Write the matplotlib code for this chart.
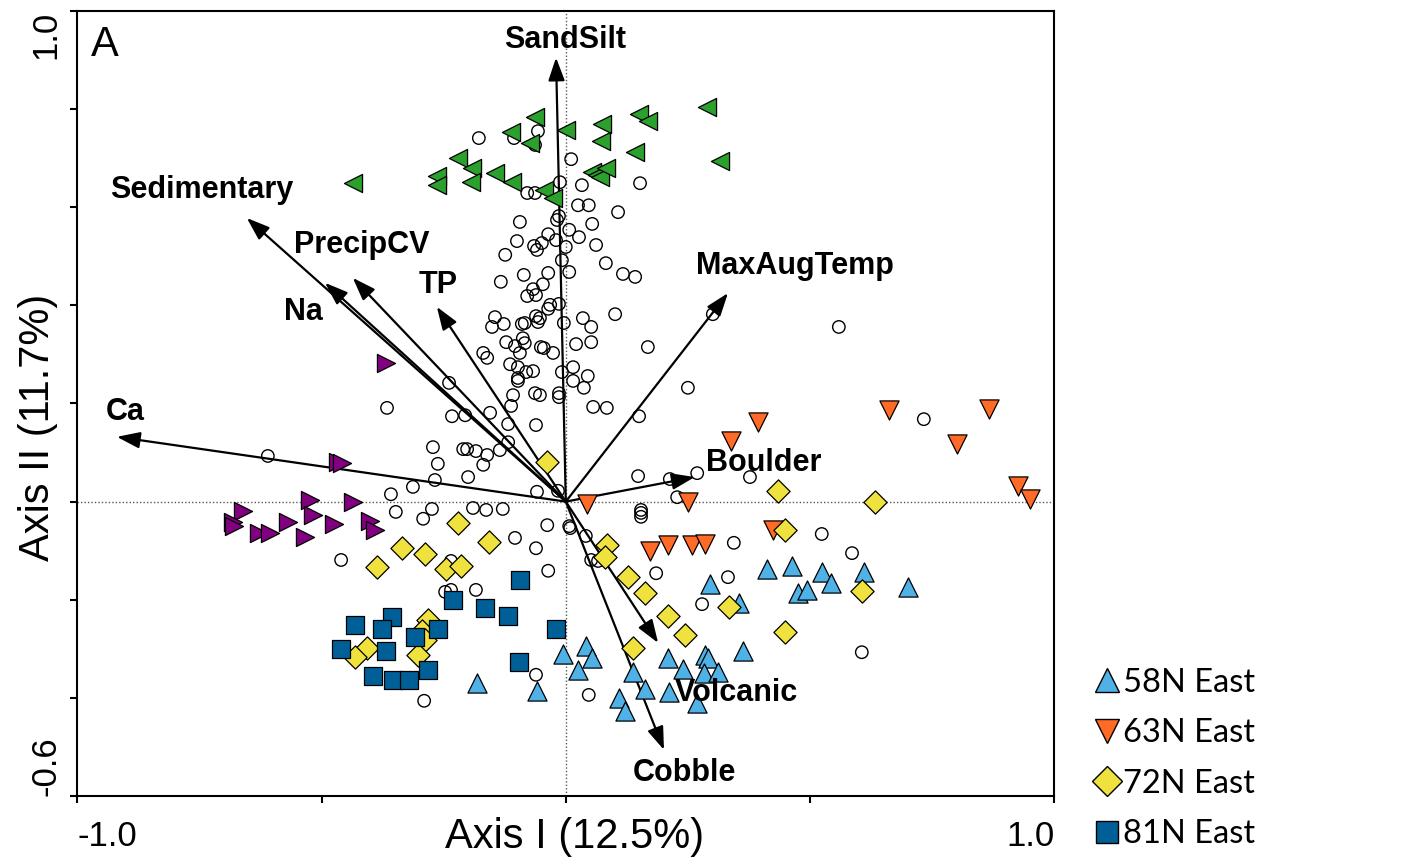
import matplotlib
matplotlib.use("Agg")
import matplotlib.pyplot as plt
from matplotlib.lines import Line2D

###
# DATA (axis units)
###

# sites not in the four highlighted groups (open circles)
other_x = [-0.178, -0.106, -0.057, -0.063, 0.011, -0.012, 0.033, 0.152, -0.079, -0.063,
           0.025, 0.047, 0.107, -0.014, -0.018, -0.094, 0.054, 0.007, -0.036, 0.027,
           -0.020, -0.100, -0.049, 0.062, -0.065, -0.059, 0.000, -0.124, -0.008, 0.082,
           0.117, 0.142, 0.007, -0.036, -0.086, -0.133, -0.047, -0.067, -0.079, -0.061,
           -0.014, -0.032, -0.036, 0.101, 0.301, 0.559, -0.145, -0.127, -0.151, -0.090,
           -0.084, -0.061, -0.057, -0.053, -0.004, 0.035, 0.052, -0.122, -0.104, -0.088,
           -0.084, -0.051, -0.045, -0.026, -0.094, 0.021, 0.052, 0.168, -0.169, -0.161,
           -0.114, -0.098, -0.081, -0.067, -0.098, -0.098, -0.008, 0.015, 0.015, 0.045,
           0.037, 0.250, -0.063, -0.053, -0.108, -0.014, -0.014, -0.112, 0.056, 0.084,
           0.150, -0.239, -0.366, -0.233, -0.206, -0.155, -0.118, -0.061, 0.733, -0.610,
           -0.272, -0.210, -0.202, -0.184, -0.161, -0.135, -0.118, -0.262, -0.169, -0.200,
           -0.268, -0.313, -0.358, -0.059, -0.016, -0.348, -0.274, -0.292, -0.190, -0.163,
           -0.129, -0.038, 0.007, 0.009, 0.041, -0.104, -0.061, 0.052, 0.066, -0.036,
           -0.460, -0.235, -0.247, -0.235, -0.184, -0.061, -0.290, 0.047, 0.148, 0.213,
           0.269, 0.377, 0.228, 0.154, 0.154, 0.154, 0.344, 0.524, 0.586, 0.185,
           0.332, 0.279, 0.606]
other_y = [0.741, 0.741, 0.755, 0.727, 0.698, 0.651, 0.645, 0.649, 0.629, 0.629,
           0.604, 0.604, 0.590, 0.582, 0.574, 0.570, 0.566, 0.554, 0.545, 0.539,
           0.533, 0.531, 0.527, 0.523, 0.521, 0.513, 0.519, 0.503, 0.492, 0.486,
           0.464, 0.458, 0.468, 0.466, 0.462, 0.448, 0.443, 0.433, 0.419, 0.421,
           0.403, 0.401, 0.393, 0.382, 0.382, 0.356, 0.376, 0.362, 0.356, 0.362,
           0.364, 0.378, 0.366, 0.374, 0.364, 0.374, 0.356, 0.325, 0.317, 0.333,
           0.323, 0.315, 0.313, 0.303, 0.303, 0.321, 0.325, 0.315, 0.303, 0.293,
           0.280, 0.274, 0.264, 0.266, 0.252, 0.246, 0.264, 0.274, 0.246, 0.256,
           0.232, 0.232, 0.221, 0.217, 0.217, 0.221, 0.213, 0.195, 0.193, 0.191,
           0.174, 0.242, 0.191, 0.174, 0.176, 0.181, 0.158, 0.156, 0.168, 0.093,
           0.111, 0.107, 0.107, 0.103, 0.095, 0.105, 0.121, 0.077, 0.075, 0.050,
           0.044, 0.030, 0.015, 0.020, 0.022, -0.021, -0.015, -0.035, -0.013, -0.017,
           -0.015, -0.048, -0.050, -0.054, -0.070, -0.074, -0.095, -0.119, -0.121, -0.141,
           -0.119, -0.121, -0.184, -0.180, -0.180, -0.353, -0.406, -0.394, 0.052, 0.046,
           0.058, 0.050, 0.009, -0.017, -0.023, -0.031, -0.084, -0.066, -0.105, -0.146,
           -0.154, -0.209, -0.307]

# green sites (left triangles)
green_x = [-0.436, -0.264, -0.264, -0.221, -0.192, -0.194, -0.145, -0.110, -0.112, -0.073,
           -0.063, -0.045, -0.026, 0.000, 0.054, 0.064, 0.070, 0.082, 0.074, 0.072,
           0.142, 0.150, 0.168, 0.289, 0.316]
green_y = [0.649, 0.664, 0.645, 0.700, 0.680, 0.651, 0.670, 0.651, 0.753, 0.731,
           0.784, 0.635, 0.619, 0.757, 0.672, 0.666, 0.662, 0.680, 0.770, 0.735,
           0.713, 0.790, 0.776, 0.804, 0.694]

# purple sites (right triangles)
purple_x = [-0.368, -0.466, -0.458, -0.524, -0.436, -0.661, -0.681, -0.679, -0.628, -0.606,
            -0.569, -0.518, -0.534, -0.475, -0.401, -0.391]
purple_y = [0.283, 0.081, 0.079, 0.003, -0.001, -0.019, -0.042, -0.050, -0.064, -0.064,
            -0.042, -0.027, -0.072, -0.046, -0.040, -0.058]

# 58N East
n58_x = [-0.182, -0.059, -0.006, 0.041, 0.054, 0.025, 0.109, 0.121, 0.138, 0.162,
         0.209, 0.240, 0.285, 0.291, 0.283, 0.312, 0.211, 0.269, 0.363, 0.295,
         0.355, 0.412, 0.463, 0.524, 0.543, 0.475, 0.494, 0.610, 0.701]
n58_y = [-0.370, -0.386, -0.311, -0.294, -0.319, -0.343, -0.400, -0.427, -0.347, -0.382,
         -0.319, -0.341, -0.313, -0.319, -0.349, -0.347, -0.388, -0.411, -0.305, -0.168,
         -0.207, -0.137, -0.131, -0.143, -0.166, -0.186, -0.180, -0.143, -0.174]

# 63N East
n63_x = [0.043, 0.250, 0.172, 0.209, 0.258, 0.285, 0.338, 0.393, 0.424, 0.662,
         0.801, 0.866, 0.926, 0.950]
n63_y = [-0.005, -0.001, -0.101, -0.088, -0.088, -0.086, 0.124, 0.162, -0.058, 0.187,
         0.117, 0.189, 0.032, 0.005]

# 72N East
n72_x = [-0.038, -0.221, -0.157, -0.335, -0.288, -0.386, -0.245, -0.215, -0.282, -0.294,
         -0.288, -0.303, -0.407, -0.432, 0.084, 0.080, 0.127, 0.162, 0.209, 0.244,
         0.138, 0.334, 0.434, 0.633, 0.449, 0.606, 0.449]
n72_y = [0.081, -0.044, -0.082, -0.095, -0.107, -0.133, -0.137, -0.131, -0.241, -0.264,
         -0.282, -0.313, -0.298, -0.317, -0.088, -0.113, -0.154, -0.186, -0.233, -0.272,
         -0.298, -0.215, 0.022, -0.001, -0.058, -0.182, -0.266]

# 81N East
n81_x = [-0.094, -0.231, -0.165, -0.118, -0.020, -0.432, -0.356, -0.376, -0.460, -0.368,
         -0.262, -0.309, -0.395, -0.354, -0.321, -0.282, -0.096]
n81_y = [-0.160, -0.201, -0.217, -0.233, -0.260, -0.252, -0.235, -0.260, -0.300, -0.305,
         -0.260, -0.276, -0.355, -0.364, -0.364, -0.343, -0.327]

# environmental vectors (arrow tips)
env_names = ["SandSilt", "Sedimentary", "PrecipCV", "Na", "TP", "Ca",
             "MaxAugTemp", "Boulder", "Volcanic", "Cobble"]
env_x = [-0.020, -0.653, -0.436, -0.493, -0.264, -0.919, 0.332, 0.264, 0.189, 0.201]
env_y = [0.905, 0.578, 0.456, 0.446, 0.397, 0.132, 0.425, 0.050, -0.288, -0.506]

# where each vector label sits (layout only)
label_pos = {
    "SandSilt": (-0.002, 0.941, "center"),
    "Sedimentary": (-0.745, 0.635, "center"),
    "PrecipCV": (-0.417, 0.523, "center"),
    "Na": (-0.538, 0.386, "center"),
    "TP": (-0.262, 0.441, "center"),
    "Ca": (-0.902, 0.183, "center"),
    "MaxAugTemp": (0.469, 0.480, "center"),
    "Boulder": (0.287, 0.079, "left"),
    "Volcanic": (0.350, -0.390, "center"),
    "Cobble": (0.242, -0.553, "center"),
}


def main():
    fig = plt.figure(figsize=(14.01, 8.65), dpi=100)
    ax = fig.add_axes([0.0552, 0.0798, 0.6973, 0.9075])

    ## dotted zero lines
    ax.axhline(0, color="0.35", lw=1, ls=(0, (1, 1.5)), zorder=1)
    ax.axvline(0, color="0.35", lw=1, ls=(0, (1, 1.5)), zorder=1)

    ## open circles first, arrows over them, coloured groups on top
    ax.scatter(other_x, other_y, s=80, marker="o", facecolors="none",
               edgecolors="black", linewidths=1.0, zorder=2)

    for name, ex, ey in zip(env_names, env_x, env_y):
        ax.annotate("", xy=(ex, ey), xytext=(0, 0),
                    arrowprops=dict(arrowstyle="-|>,head_length=0.7,head_width=0.25",
                                    mutation_scale=20, lw=1.6, color="black",
                                    shrinkA=0, shrinkB=0), zorder=3)
        lx, ly, ha = label_pos[name]
        ax.text(lx, ly, name, ha=ha, va="center", fontsize=22, fontweight="bold",
                family="Liberation Sans", zorder=6)

    edge = dict(edgecolors="black", linewidths=0.9, zorder=4)
    ax.scatter(green_x, green_y, s=170, marker="<", facecolors="#2ca02c", **edge)
    ax.scatter(purple_x, purple_y, s=170, marker=">", facecolors="#800080", **edge)
    ax.scatter(n58_x, n58_y, s=190, marker="^", facecolors="#4fb1e6", **edge)
    ax.scatter(n63_x, n63_y, s=190, marker="v", facecolors="#ff6a26", **edge)
    ax.scatter(n72_x, n72_y, s=140, marker="D", facecolors="#efe23e", **edge)
    ax.scatter(n81_x, n81_y, s=175, marker="s", facecolors="#005f96", **edge)

    ## axes, ticks
    ax.set_xlim(-1.0, 1.0)
    ax.set_ylim(-0.6, 1.0)
    for sp in ax.spines.values():
        sp.set_linewidth(1.5)
    ax.set_xticks([-1.0, -0.5, 0.0, 0.5, 1.0])
    ax.set_xticklabels(["-1.0", "", "", "", "1.0"])
    ax.set_yticks([-0.6, -0.4, -0.2, 0.0, 0.2, 0.4, 0.6, 0.8, 1.0])
    ax.set_yticklabels(["-0.6", "", "", "", "", "", "", "", "1.0"])
    ax.tick_params(direction="out", length=5, width=1.5, labelsize=25, pad=6)
    ax.tick_params(axis="x", pad=12)
    xl = ax.get_xticklabels()
    xl[0].set_ha("left")
    xl[-1].set_ha("right")
    for lab in ax.get_yticklabels():
        lab.set_rotation(90)
        lab.set_ha("right")
    yl = ax.get_yticklabels()
    yl[0].set_va("bottom")
    yl[-1].set_va("top")
    for lab in xl + yl:
        lab.set_family("Liberation Sans")

    ax.set_xlabel("Axis I (12.5%)", fontsize=30, family="Liberation Sans")
    ax.set_ylabel("Axis II (11.7%)", fontsize=30, family="Liberation Sans", va="center")
    ax.xaxis.set_label_coords(0.509, -0.027)
    ax.yaxis.set_label_coords(-0.040, 0.469)

    ax.text(0.014, 0.957, "A", transform=ax.transAxes, fontsize=30, va="center",
            family="Liberation Sans")

    ## legend for the four highlighted groups
    handles = [
        Line2D([], [], ls="none", marker="^", ms=17, mfc="#4fb1e6", mec="black", mew=1),
        Line2D([], [], ls="none", marker="v", ms=17, mfc="#ff6a26", mec="black", mew=1),
        Line2D([], [], ls="none", marker="D", ms=15, mfc="#efe23e", mec="black", mew=1),
        Line2D([], [], ls="none", marker="s", ms=16, mfc="#005f96", mec="black", mew=1),
    ]
    labels = ["58N East", "63N East", "72N East", "81N East"]
    fig.legend(handles, labels, loc="upper left", bbox_to_anchor=(0.769, 0.247),
               frameon=False, prop={"family": "Lato", "size": 23.5},
               handlelength=0.8, handletextpad=0.1, labelspacing=0.63, borderpad=0)

    plt.savefig("out.png", dpi=100)


if __name__ == "__main__":
    main()
